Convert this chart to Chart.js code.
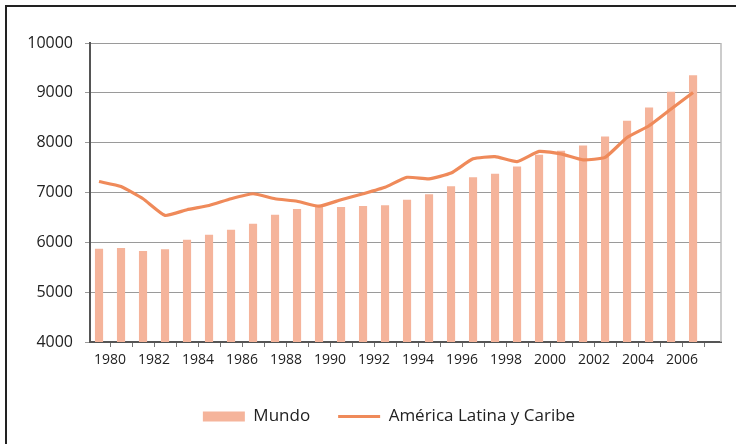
<!DOCTYPE html>
<html>
<head>
<meta charset="utf-8">
<script src="https://cdn.jsdelivr.net/npm/chart.js@4/dist/chart.umd.min.js"></script>
<style>
  html, body { margin: 0; padding: 0; background: #fff; overflow: hidden; }
  #marco { position: absolute; left: 5px; top: 5px; width: 800px; height: 500px; border: 2px solid #222; }
  #caja { position: absolute; left: 0; top: 0; width: 736px; height: 444px; }
</style>
</head>
<body>
<div id="marco"></div>
<div id="caja"><canvas id="myChart" width="736" height="444"></canvas></div>
<script>
// Años del eje X
const anios = [1980, 1981, 1982, 1983, 1984, 1985, 1986, 1987, 1988, 1989,
               1990, 1991, 1992, 1993, 1994, 1995, 1996, 1997, 1998, 1999,
               2000, 2001, 2002, 2003, 2004, 2005, 2006, 2007];

// Serie de barras: Mundo
const mundo = [5870, 5885, 5825, 5860, 6050, 6150, 6255, 6375, 6555, 6670,
               6720, 6710, 6730, 6745, 6855, 6965, 7125, 7305, 7375, 7520,
               7760, 7840, 7945, 8125, 8440, 8705, 9020, 9355];

// Serie de línea: América Latina y Caribe
const latam = [7220, 7120, 6875, 6540, 6655, 6740, 6875, 6975, 6875, 6825,
               6725, 6855, 6975, 7105, 7305, 7275, 7390, 7675, 7720, 7620,
               7825, 7775, 7655, 7705, 8105, 8340, 8675, 9005];

// Marcas del eje Y
const ticksY = [4000, 5000, 6000, 7000, 8000, 9000, 10000];

const colorBarra = '#f5b49b';
const colorLinea = '#ef8a5a';
const fuente = "'Open Sans', sans-serif";

// Borde derecho gris del área del gráfico
const bordeDerecho = {
    id: 'bordeDerecho',
    afterDraw(chart) {
        const { ctx, chartArea } = chart;
        ctx.save();
        ctx.strokeStyle = '#bbbbbb';
        ctx.lineWidth = 1.5;
        ctx.beginPath();
        ctx.moveTo(chartArea.right, chartArea.top);
        ctx.lineTo(chartArea.right, chartArea.bottom);
        ctx.stroke();
        ctx.restore();
    }
};

// Altura fija de la leyenda y desplazamiento a la derecha
const ajusteLeyenda = {
    id: 'ajusteLeyenda',
    beforeInit(chart) {
        const fit = chart.legend.fit;
        chart.legend.fit = function () {
            fit.call(this);
            this.height = 64;
        };
    },
    afterLayout(chart) {
        chart.legend.left += 57;
    }
};

const ctx = document.getElementById('myChart').getContext('2d');

new Chart(ctx, {
    type: 'bar',
    data: {
        datasets: [{
            label: 'Mundo',
            data: anios.map((a, i) => ({ x: a, y: mundo[i] })),
            backgroundColor: colorBarra,
            borderWidth: 0,
            barPercentage: 0.37,
            categoryPercentage: 1,
            pointStyle: 'rect',
            order: 2
        }, {
            type: 'line',
            label: 'América Latina y Caribe',
            data: anios.map((a, i) => ({ x: a, y: latam[i] })),
            borderColor: colorLinea,
            backgroundColor: colorLinea,
            borderWidth: 3.2,
            pointRadius: 0,
            tension: 0.15,
            pointStyle: 'line',
            order: 1
        }]
    },
    options: {
        responsive: false,
        animation: false,
        layout: { padding: { top: 43, right: 15, left: 0, bottom: 0 } },
        plugins: {
            tooltip: { enabled: false },
            legend: {
                position: 'bottom',
                labels: {
                    usePointStyle: true,
                    pointStyleWidth: 42,
                    boxHeight: 10,
                    padding: 28,
                    color: '#222',
                    font: { family: fuente, size: 17 },
                    sort: (a, b) => a.datasetIndex - b.datasetIndex
                }
            }
        },
        scales: {
            x: {
                type: 'linear',
                offset: false,
                min: 1979.59,
                max: 2008.27,
                afterBuildTicks: (scale) => {
                    scale.ticks = anios.map(a => ({ value: a + 0.5 }));
                },
                afterFit: (scale) => { scale.height = 38; },
                grid: { drawOnChartArea: false, tickLength: 5, color: '#777', offset: false },
                border: { color: '#555', width: 2 },
                ticks: {
                    autoSkip: false,
                    maxRotation: 0,
                    padding: 5,
                    color: '#222',
                    font: { family: fuente, size: 14 },
                    callback: (v) => {
                        const a = Math.round(v - 0.5);
                        return a % 2 === 0 ? String(a) : '';
                    }
                }
            },
            y: {
                min: 4000,
                max: 10000,
                afterBuildTicks: (scale) => {
                    scale.ticks = ticksY.map(v => ({ value: v }));
                },
                afterFit: (scale) => { scale.width = 90; },
                grid: { color: '#9a9a9a', lineWidth: 1, tickLength: 5 },
                border: { color: '#555', width: 2 },
                ticks: {
                    padding: 12,
                    color: '#222',
                    font: { family: fuente, size: 16 },
                    callback: (v) => String(v)
                }
            }
        }
    },
    plugins: [bordeDerecho, ajusteLeyenda]
});
</script>
</body>
</html>
